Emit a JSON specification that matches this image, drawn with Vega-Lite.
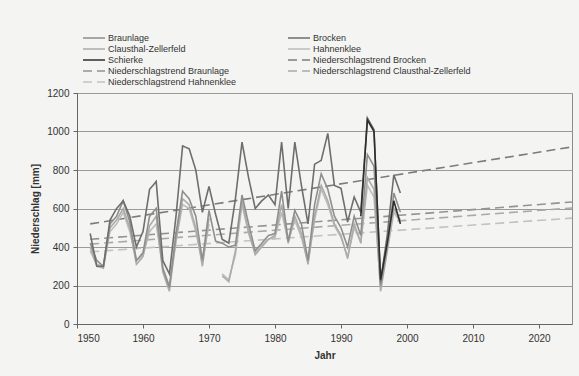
{
  "$schema": "https://vega.github.io/schema/vega-lite/v6.json",
  "autosize": {"type": "none"},
  "width": 495,
  "height": 231,
  "padding": {"left": 77, "top": 93, "right": 7, "bottom": 52},
  "background": "#f4f4f2",
  "config": {
    "font": "Liberation Sans",
    "view": {"stroke": "#8c8c8c", "strokeWidth": 1, "fill": "#f4f4f2"},
    "axis": {"labelFont": "Liberation Sans", "titleFont": "Liberation Sans", "labelColor": "#333333", "titleColor": "#333333", "labelFontSize": 10, "titleFontSize": 10, "titleFontWeight": "bold", "domainColor": "#666666", "tickColor": "#666666", "tickSize": 4},
    "legend": {
      "title": null, "orient": "none", "legendX": 11, "legendY": -61, "columns": 2, "columnPadding": 47, "rowPadding": 0, "padding": 0,
      "symbolType": "M-2.32,0H2.32", "symbolSize": 90, "symbolStrokeWidth": 1.6, "labelFontSize": 9, "labelFont": "Liberation Sans", "labelColor": "#333333", "labelOffset": 8, "labelLimit": 300, "direction": "vertical"
    }
  },
  "data": {
    "values": [
      {"Jahr": 1952, "Serie": "Niederschlagstrend Brocken", "Wert": 520},
      {"Jahr": 2025, "Serie": "Niederschlagstrend Brocken", "Wert": 920},
      {"Jahr": 1952, "Serie": "Niederschlagstrend Braunlage", "Wert": 440},
      {"Jahr": 2025, "Serie": "Niederschlagstrend Braunlage", "Wert": 634},
      {"Jahr": 1952, "Serie": "Niederschlagstrend Clausthal-Zellerfeld", "Wert": 415},
      {"Jahr": 2025, "Serie": "Niederschlagstrend Clausthal-Zellerfeld", "Wert": 603},
      {"Jahr": 1952, "Serie": "Niederschlagstrend Hahnenklee", "Wert": 375},
      {"Jahr": 2025, "Serie": "Niederschlagstrend Hahnenklee", "Wert": 550},

      {"Jahr": 1952, "Serie": "Hahnenklee", "Wert": 380},
      {"Jahr": 1953, "Serie": "Hahnenklee", "Wert": 310},
      {"Jahr": 1954, "Serie": "Hahnenklee", "Wert": 300},
      {"Jahr": 1955, "Serie": "Hahnenklee", "Wert": 480},
      {"Jahr": 1956, "Serie": "Hahnenklee", "Wert": 520},
      {"Jahr": 1957, "Serie": "Hahnenklee", "Wert": 580},
      {"Jahr": 1958, "Serie": "Hahnenklee", "Wert": 480},
      {"Jahr": 1959, "Serie": "Hahnenklee", "Wert": 330},
      {"Jahr": 1960, "Serie": "Hahnenklee", "Wert": 360},
      {"Jahr": 1961, "Serie": "Hahnenklee", "Wert": 480},
      {"Jahr": 1962, "Serie": "Hahnenklee", "Wert": 520},
      {"Jahr": 1963, "Serie": "Hahnenklee", "Wert": 290},
      {"Jahr": 1964, "Serie": "Hahnenklee", "Wert": 200},
      {"Jahr": 1965, "Serie": "Hahnenklee", "Wert": 430},
      {"Jahr": 1966, "Serie": "Hahnenklee", "Wert": 620},
      {"Jahr": 1967, "Serie": "Hahnenklee", "Wert": 600},
      {"Jahr": 1968, "Serie": "Hahnenklee", "Wert": 480},
      {"Jahr": 1969, "Serie": "Hahnenklee", "Wert": 320},
      {"Jahr": 1970, "Serie": "Hahnenklee", "Wert": 520},
      {"Jahr": 1971, "Serie": "Hahnenklee", "Wert": null},
      {"Jahr": 1972, "Serie": "Hahnenklee", "Wert": 260},
      {"Jahr": 1973, "Serie": "Hahnenklee", "Wert": 230},
      {"Jahr": 1974, "Serie": "Hahnenklee", "Wert": 360},
      {"Jahr": 1975, "Serie": "Hahnenklee", "Wert": 620},
      {"Jahr": 1976, "Serie": "Hahnenklee", "Wert": 470},
      {"Jahr": 1977, "Serie": "Hahnenklee", "Wert": 370},
      {"Jahr": 1978, "Serie": "Hahnenklee", "Wert": 410},
      {"Jahr": 1979, "Serie": "Hahnenklee", "Wert": 440},
      {"Jahr": 1980, "Serie": "Hahnenklee", "Wert": 450},
      {"Jahr": 1981, "Serie": "Hahnenklee", "Wert": 580},
      {"Jahr": 1982, "Serie": "Hahnenklee", "Wert": 430},
      {"Jahr": 1983, "Serie": "Hahnenklee", "Wert": 540},
      {"Jahr": 1984, "Serie": "Hahnenklee", "Wert": 450},
      {"Jahr": 1985, "Serie": "Hahnenklee", "Wert": 320},
      {"Jahr": 1986, "Serie": "Hahnenklee", "Wert": 540},
      {"Jahr": 1987, "Serie": "Hahnenklee", "Wert": 700},
      {"Jahr": 1988, "Serie": "Hahnenklee", "Wert": 620},
      {"Jahr": 1989, "Serie": "Hahnenklee", "Wert": 510},
      {"Jahr": 1990, "Serie": "Hahnenklee", "Wert": 450},
      {"Jahr": 1991, "Serie": "Hahnenklee", "Wert": 350},
      {"Jahr": 1992, "Serie": "Hahnenklee", "Wert": 500},
      {"Jahr": 1993, "Serie": "Hahnenklee", "Wert": 430},
      {"Jahr": 1994, "Serie": "Hahnenklee", "Wert": 720},
      {"Jahr": 1995, "Serie": "Hahnenklee", "Wert": 660},
      {"Jahr": 1996, "Serie": "Hahnenklee", "Wert": 190},
      {"Jahr": 1997, "Serie": "Hahnenklee", "Wert": 380},
      {"Jahr": 1998, "Serie": "Hahnenklee", "Wert": 580},
      {"Jahr": 1999, "Serie": "Hahnenklee", "Wert": 530},

      {"Jahr": 1952, "Serie": "Clausthal-Zellerfeld", "Wert": 400},
      {"Jahr": 1953, "Serie": "Clausthal-Zellerfeld", "Wert": 300},
      {"Jahr": 1954, "Serie": "Clausthal-Zellerfeld", "Wert": 290},
      {"Jahr": 1955, "Serie": "Clausthal-Zellerfeld", "Wert": 500},
      {"Jahr": 1956, "Serie": "Clausthal-Zellerfeld", "Wert": 540},
      {"Jahr": 1957, "Serie": "Clausthal-Zellerfeld", "Wert": 600},
      {"Jahr": 1958, "Serie": "Clausthal-Zellerfeld", "Wert": 500},
      {"Jahr": 1959, "Serie": "Clausthal-Zellerfeld", "Wert": 310},
      {"Jahr": 1960, "Serie": "Clausthal-Zellerfeld", "Wert": 350},
      {"Jahr": 1961, "Serie": "Clausthal-Zellerfeld", "Wert": 510},
      {"Jahr": 1962, "Serie": "Clausthal-Zellerfeld", "Wert": 560},
      {"Jahr": 1963, "Serie": "Clausthal-Zellerfeld", "Wert": 270},
      {"Jahr": 1964, "Serie": "Clausthal-Zellerfeld", "Wert": 170},
      {"Jahr": 1965, "Serie": "Clausthal-Zellerfeld", "Wert": 440},
      {"Jahr": 1966, "Serie": "Clausthal-Zellerfeld", "Wert": 650},
      {"Jahr": 1967, "Serie": "Clausthal-Zellerfeld", "Wert": 620},
      {"Jahr": 1968, "Serie": "Clausthal-Zellerfeld", "Wert": 500},
      {"Jahr": 1969, "Serie": "Clausthal-Zellerfeld", "Wert": 300},
      {"Jahr": 1970, "Serie": "Clausthal-Zellerfeld", "Wert": 550},
      {"Jahr": 1971, "Serie": "Clausthal-Zellerfeld", "Wert": null},
      {"Jahr": 1972, "Serie": "Clausthal-Zellerfeld", "Wert": 250},
      {"Jahr": 1973, "Serie": "Clausthal-Zellerfeld", "Wert": 220},
      {"Jahr": 1974, "Serie": "Clausthal-Zellerfeld", "Wert": 380},
      {"Jahr": 1975, "Serie": "Clausthal-Zellerfeld", "Wert": 640},
      {"Jahr": 1976, "Serie": "Clausthal-Zellerfeld", "Wert": 480},
      {"Jahr": 1977, "Serie": "Clausthal-Zellerfeld", "Wert": 360},
      {"Jahr": 1978, "Serie": "Clausthal-Zellerfeld", "Wert": 400},
      {"Jahr": 1979, "Serie": "Clausthal-Zellerfeld", "Wert": 440},
      {"Jahr": 1980, "Serie": "Clausthal-Zellerfeld", "Wert": 460},
      {"Jahr": 1981, "Serie": "Clausthal-Zellerfeld", "Wert": 620},
      {"Jahr": 1982, "Serie": "Clausthal-Zellerfeld", "Wert": 420},
      {"Jahr": 1983, "Serie": "Clausthal-Zellerfeld", "Wert": 560},
      {"Jahr": 1984, "Serie": "Clausthal-Zellerfeld", "Wert": 470},
      {"Jahr": 1985, "Serie": "Clausthal-Zellerfeld", "Wert": 310},
      {"Jahr": 1986, "Serie": "Clausthal-Zellerfeld", "Wert": 560},
      {"Jahr": 1987, "Serie": "Clausthal-Zellerfeld", "Wert": 720},
      {"Jahr": 1988, "Serie": "Clausthal-Zellerfeld", "Wert": 640},
      {"Jahr": 1989, "Serie": "Clausthal-Zellerfeld", "Wert": 520},
      {"Jahr": 1990, "Serie": "Clausthal-Zellerfeld", "Wert": 460},
      {"Jahr": 1991, "Serie": "Clausthal-Zellerfeld", "Wert": 340},
      {"Jahr": 1992, "Serie": "Clausthal-Zellerfeld", "Wert": 520},
      {"Jahr": 1993, "Serie": "Clausthal-Zellerfeld", "Wert": 420},
      {"Jahr": 1994, "Serie": "Clausthal-Zellerfeld", "Wert": 760},
      {"Jahr": 1995, "Serie": "Clausthal-Zellerfeld", "Wert": 700},
      {"Jahr": 1996, "Serie": "Clausthal-Zellerfeld", "Wert": 170},
      {"Jahr": 1997, "Serie": "Clausthal-Zellerfeld", "Wert": 380},
      {"Jahr": 1998, "Serie": "Clausthal-Zellerfeld", "Wert": 600},
      {"Jahr": 1999, "Serie": "Clausthal-Zellerfeld", "Wert": 540},

      {"Jahr": 1952, "Serie": "Braunlage", "Wert": 420},
      {"Jahr": 1953, "Serie": "Braunlage", "Wert": 330},
      {"Jahr": 1954, "Serie": "Braunlage", "Wert": 300},
      {"Jahr": 1955, "Serie": "Braunlage", "Wert": 520},
      {"Jahr": 1956, "Serie": "Braunlage", "Wert": 560},
      {"Jahr": 1957, "Serie": "Braunlage", "Wert": 640},
      {"Jahr": 1958, "Serie": "Braunlage", "Wert": 530},
      {"Jahr": 1959, "Serie": "Braunlage", "Wert": 330},
      {"Jahr": 1960, "Serie": "Braunlage", "Wert": 370},
      {"Jahr": 1961, "Serie": "Braunlage", "Wert": 560},
      {"Jahr": 1962, "Serie": "Braunlage", "Wert": 600},
      {"Jahr": 1963, "Serie": "Braunlage", "Wert": 290},
      {"Jahr": 1964, "Serie": "Braunlage", "Wert": 190},
      {"Jahr": 1965, "Serie": "Braunlage", "Wert": 470},
      {"Jahr": 1966, "Serie": "Braunlage", "Wert": 690},
      {"Jahr": 1967, "Serie": "Braunlage", "Wert": 650},
      {"Jahr": 1968, "Serie": "Braunlage", "Wert": 560},
      {"Jahr": 1969, "Serie": "Braunlage", "Wert": 330},
      {"Jahr": 1970, "Serie": "Braunlage", "Wert": 590},
      {"Jahr": 1971, "Serie": "Braunlage", "Wert": 430},
      {"Jahr": 1972, "Serie": "Braunlage", "Wert": 420},
      {"Jahr": 1973, "Serie": "Braunlage", "Wert": 400},
      {"Jahr": 1974, "Serie": "Braunlage", "Wert": 410},
      {"Jahr": 1975, "Serie": "Braunlage", "Wert": 670},
      {"Jahr": 1976, "Serie": "Braunlage", "Wert": 520},
      {"Jahr": 1977, "Serie": "Braunlage", "Wert": 380},
      {"Jahr": 1978, "Serie": "Braunlage", "Wert": 420},
      {"Jahr": 1979, "Serie": "Braunlage", "Wert": 460},
      {"Jahr": 1980, "Serie": "Braunlage", "Wert": 470},
      {"Jahr": 1981, "Serie": "Braunlage", "Wert": 690},
      {"Jahr": 1982, "Serie": "Braunlage", "Wert": 430},
      {"Jahr": 1983, "Serie": "Braunlage", "Wert": 590},
      {"Jahr": 1984, "Serie": "Braunlage", "Wert": 520},
      {"Jahr": 1985, "Serie": "Braunlage", "Wert": 330},
      {"Jahr": 1986, "Serie": "Braunlage", "Wert": 620},
      {"Jahr": 1987, "Serie": "Braunlage", "Wert": 780},
      {"Jahr": 1988, "Serie": "Braunlage", "Wert": 700},
      {"Jahr": 1989, "Serie": "Braunlage", "Wert": 560},
      {"Jahr": 1990, "Serie": "Braunlage", "Wert": 500},
      {"Jahr": 1991, "Serie": "Braunlage", "Wert": 400},
      {"Jahr": 1992, "Serie": "Braunlage", "Wert": 560},
      {"Jahr": 1993, "Serie": "Braunlage", "Wert": 460},
      {"Jahr": 1994, "Serie": "Braunlage", "Wert": 880},
      {"Jahr": 1995, "Serie": "Braunlage", "Wert": 820},
      {"Jahr": 1996, "Serie": "Braunlage", "Wert": 200},
      {"Jahr": 1997, "Serie": "Braunlage", "Wert": 400},
      {"Jahr": 1998, "Serie": "Braunlage", "Wert": 680},
      {"Jahr": 1999, "Serie": "Braunlage", "Wert": 580},

      {"Jahr": 1952, "Serie": "Brocken", "Wert": 470},
      {"Jahr": 1953, "Serie": "Brocken", "Wert": 300},
      {"Jahr": 1954, "Serie": "Brocken", "Wert": 300},
      {"Jahr": 1955, "Serie": "Brocken", "Wert": 540},
      {"Jahr": 1956, "Serie": "Brocken", "Wert": 600},
      {"Jahr": 1957, "Serie": "Brocken", "Wert": 640},
      {"Jahr": 1958, "Serie": "Brocken", "Wert": 560},
      {"Jahr": 1959, "Serie": "Brocken", "Wert": 400},
      {"Jahr": 1960, "Serie": "Brocken", "Wert": 480},
      {"Jahr": 1961, "Serie": "Brocken", "Wert": 700},
      {"Jahr": 1962, "Serie": "Brocken", "Wert": 740},
      {"Jahr": 1963, "Serie": "Brocken", "Wert": 330},
      {"Jahr": 1964, "Serie": "Brocken", "Wert": 260},
      {"Jahr": 1965, "Serie": "Brocken", "Wert": 560},
      {"Jahr": 1966, "Serie": "Brocken", "Wert": 925},
      {"Jahr": 1967, "Serie": "Brocken", "Wert": 910},
      {"Jahr": 1968, "Serie": "Brocken", "Wert": 800},
      {"Jahr": 1969, "Serie": "Brocken", "Wert": 580},
      {"Jahr": 1970, "Serie": "Brocken", "Wert": 715},
      {"Jahr": 1971, "Serie": "Brocken", "Wert": 570},
      {"Jahr": 1972, "Serie": "Brocken", "Wert": 440},
      {"Jahr": 1973, "Serie": "Brocken", "Wert": 420},
      {"Jahr": 1974, "Serie": "Brocken", "Wert": 650},
      {"Jahr": 1975, "Serie": "Brocken", "Wert": 945},
      {"Jahr": 1976, "Serie": "Brocken", "Wert": 760},
      {"Jahr": 1977, "Serie": "Brocken", "Wert": 600},
      {"Jahr": 1978, "Serie": "Brocken", "Wert": 640},
      {"Jahr": 1979, "Serie": "Brocken", "Wert": 670},
      {"Jahr": 1980, "Serie": "Brocken", "Wert": 620},
      {"Jahr": 1981, "Serie": "Brocken", "Wert": 945},
      {"Jahr": 1982, "Serie": "Brocken", "Wert": 600},
      {"Jahr": 1983, "Serie": "Brocken", "Wert": 945},
      {"Jahr": 1984, "Serie": "Brocken", "Wert": 720},
      {"Jahr": 1985, "Serie": "Brocken", "Wert": 520},
      {"Jahr": 1986, "Serie": "Brocken", "Wert": 830},
      {"Jahr": 1987, "Serie": "Brocken", "Wert": 850},
      {"Jahr": 1988, "Serie": "Brocken", "Wert": 990},
      {"Jahr": 1989, "Serie": "Brocken", "Wert": 720},
      {"Jahr": 1990, "Serie": "Brocken", "Wert": 705},
      {"Jahr": 1991, "Serie": "Brocken", "Wert": 530},
      {"Jahr": 1992, "Serie": "Brocken", "Wert": 660},
      {"Jahr": 1993, "Serie": "Brocken", "Wert": 580},
      {"Jahr": 1994, "Serie": "Brocken", "Wert": 1070},
      {"Jahr": 1995, "Serie": "Brocken", "Wert": 1010},
      {"Jahr": 1996, "Serie": "Brocken", "Wert": 220},
      {"Jahr": 1997, "Serie": "Brocken", "Wert": 460},
      {"Jahr": 1998, "Serie": "Brocken", "Wert": 775},
      {"Jahr": 1999, "Serie": "Brocken", "Wert": 680},

      {"Jahr": 1993, "Serie": "Schierke", "Wert": 560},
      {"Jahr": 1994, "Serie": "Schierke", "Wert": 1060},
      {"Jahr": 1995, "Serie": "Schierke", "Wert": 1000},
      {"Jahr": 1996, "Serie": "Schierke", "Wert": 230},
      {"Jahr": 1997, "Serie": "Schierke", "Wert": 420},
      {"Jahr": 1998, "Serie": "Schierke", "Wert": 640},
      {"Jahr": 1999, "Serie": "Schierke", "Wert": 520}
    ]
  },
  "mark": {"type": "line", "strokeWidth": 1.6, "invalid": "break-paths-show-domains", "clip": true},
  "encoding": {
    "x": {
      "field": "Jahr", "type": "quantitative",
      "scale": {"domain": [1950, 2025], "nice": false, "zero": false},
      "axis": {"values": [1950, 1960, 1970, 1980, 1990, 2000, 2010, 2020], "format": "d", "grid": false, "title": "Jahr", "labelPadding": 5, "titlePadding": 7}
    },
    "y": {
      "field": "Wert", "type": "quantitative",
      "scale": {"domain": [0, 1200], "nice": false},
      "axis": {"values": [0, 200, 400, 600, 800, 1000, 1200], "format": "d", "grid": true, "gridColor": "#9a9a9a", "gridWidth": 1, "title": "Niederschlag [mm]", "labelPadding": 4, "titlePadding": 6}
    },
    "color": {
      "field": "Serie", "type": "nominal",
      "scale": {
        "domain": ["Braunlage", "Clausthal-Zellerfeld", "Schierke", "Niederschlagstrend Braunlage", "Niederschlagstrend Hahnenklee", "Brocken", "Hahnenklee", "Niederschlagstrend Brocken", "Niederschlagstrend Clausthal-Zellerfeld"],
        "range": ["#8e8e8e", "#ababab", "#2e2e2e", "#939393", "#c2c2c2", "#6e6e6e", "#bdbdbd", "#7c7c7c", "#a9a9a9"]
      }
    },
    "strokeDash": {
      "field": "Serie", "type": "nominal",
      "scale": {
        "domain": ["Braunlage", "Clausthal-Zellerfeld", "Schierke", "Niederschlagstrend Braunlage", "Niederschlagstrend Hahnenklee", "Brocken", "Hahnenklee", "Niederschlagstrend Brocken", "Niederschlagstrend Clausthal-Zellerfeld"],
        "range": [[1, 0], [1, 0], [1, 0], [9, 5], [9, 5], [1, 0], [1, 0], [9, 5], [9, 5]]
      }
    },
    "detail": {"field": "Serie"}
  }
}
